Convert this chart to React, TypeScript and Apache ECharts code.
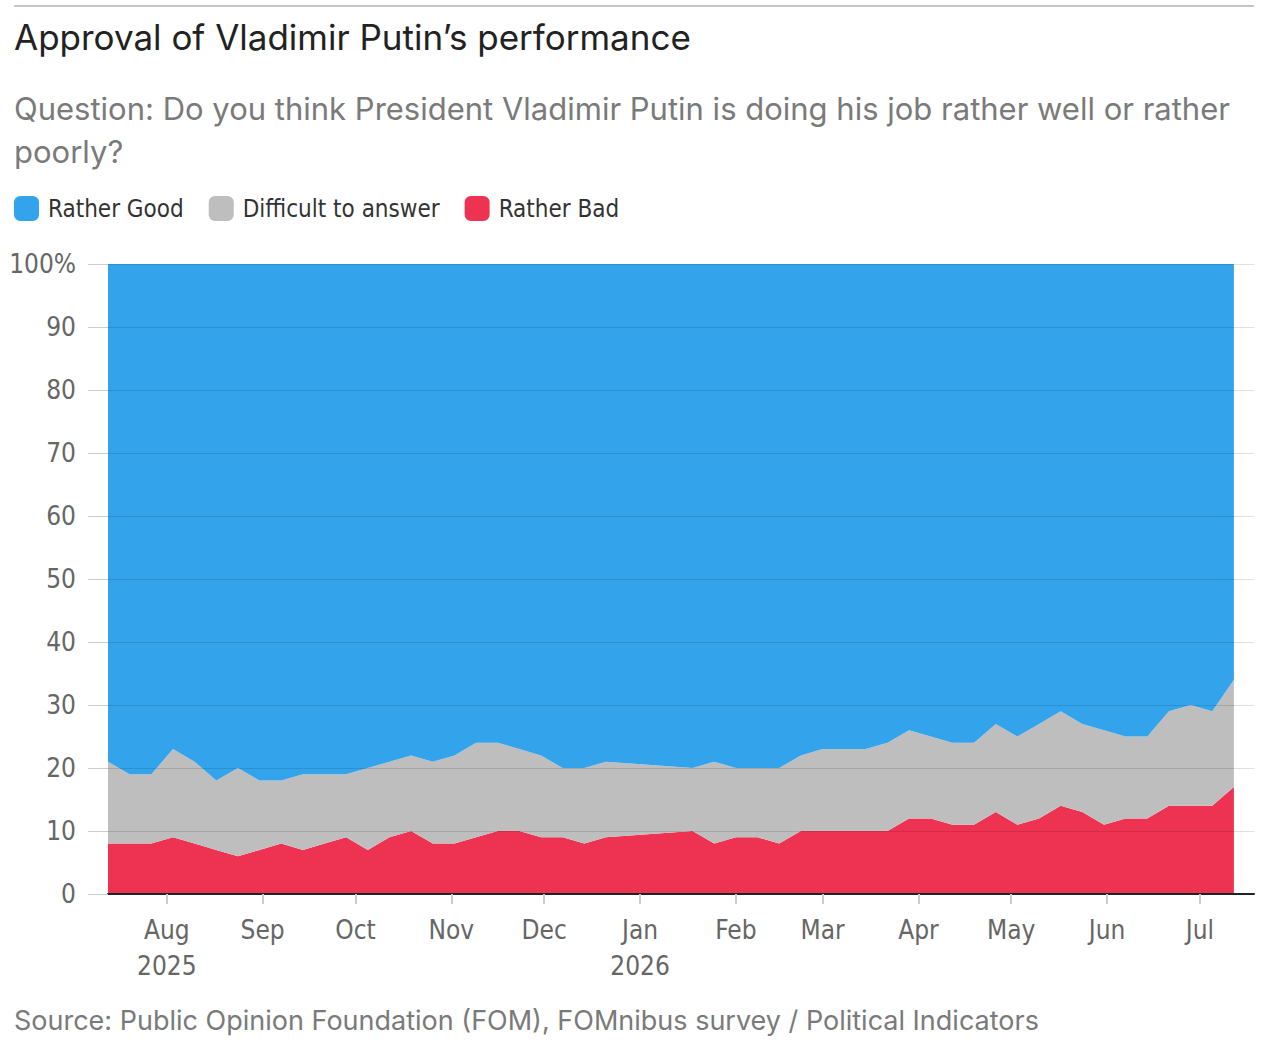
import React, { useEffect, useRef } from "react";
import * as echarts from "echarts";

// Weekly survey dates (no survey over the New Year holidays)
const dates = [
  "2025-07-13", "2025-07-20", "2025-07-27", "2025-08-03", "2025-08-10", "2025-08-17",
  "2025-08-24", "2025-08-31", "2025-09-07", "2025-09-14", "2025-09-21", "2025-09-28",
  "2025-10-05", "2025-10-12", "2025-10-19", "2025-10-26", "2025-11-02", "2025-11-09",
  "2025-11-16", "2025-11-23", "2025-11-30", "2025-12-07", "2025-12-14", "2025-12-21",
  "2026-01-18", "2026-01-25", "2026-02-01", "2026-02-08", "2026-02-15", "2026-02-22",
  "2026-03-01", "2026-03-08", "2026-03-15", "2026-03-22", "2026-03-29", "2026-04-05",
  "2026-04-12", "2026-04-19", "2026-04-26", "2026-05-03", "2026-05-10", "2026-05-17",
  "2026-05-24", "2026-05-31", "2026-06-07", "2026-06-14", "2026-06-21", "2026-06-28",
  "2026-07-05", "2026-07-12",
];

const ratherBad = [
  8, 8, 8, 9, 8, 7, 6, 7, 8, 7, 8, 9, 7, 9, 10, 8, 8, 9, 10, 10, 9, 9, 8, 9,
  10, 8, 9, 9, 8, 10, 10, 10, 10, 10, 12, 12, 11, 11, 13, 11, 12, 14, 13, 11, 12, 12, 14, 14, 14, 17,
];

const difficult = [
  13, 11, 11, 14, 13, 11, 14, 11, 10, 12, 11, 10, 13, 12, 12, 13, 14, 15, 14, 13, 13, 11, 12, 12,
  10, 13, 11, 11, 12, 12, 13, 13, 13, 14, 14, 13, 13, 13, 14, 14, 15, 15, 14, 15, 13, 13, 15, 16, 15, 17,
];

const ratherGood = [
  79, 81, 81, 77, 79, 82, 80, 82, 82, 81, 81, 81, 80, 79, 78, 79, 78, 76, 76, 77, 78, 80, 80, 79,
  80, 79, 80, 80, 80, 78, 77, 77, 77, 76, 74, 75, 76, 76, 73, 75, 73, 71, 73, 74, 75, 75, 71, 70, 71, 66,
];

const monthNames = ["Jan", "Feb", "Mar", "Apr", "May", "Jun", "Jul", "Aug", "Sep", "Oct", "Nov", "Dec"];
const yearLabelMonths = ["2025-08", "2026-01"];

const seriesNames = ["Rather Good", "Difficult to answer", "Rather Bad"];
const colors = { good: "#33A3EB", diff: "#BEBEBE", bad: "#EE3352" };

const TITLE = "Approval of Vladimir Putin\u2019s performance";
const SUB1 = "Question: Do you think President Vladimir Putin is doing his job rather well or rather";
const SUB2 = "poorly?";
const SOURCE = "Source: Public Opinion Foundation (FOM), FOMnibus survey / Political Indicators";

const DAY = 86400000;
function ts(s: string) {
  const [y, m, d] = s.split("-").map(Number);
  return new Date(y, m - 1, d).getTime();
}

const NARROW = '"Liberation Sans Narrow", "DejaVu Sans Condensed", "Roboto Condensed", Roboto, sans-serif';
const SANS = 'Inter, "Noto Sans", sans-serif';

export default function App() {
  const ref = useRef<HTMLDivElement>(null);
  useEffect(() => {
    document.body.style.margin = "0";
    const chart = echarts.init(ref.current as HTMLDivElement, undefined, { renderer: "svg" });
    const times = dates.map(ts);
    const mk = (arr: number[]) => arr.map((v, i) => [times[i], v]);
    const area = (name: string, data: number[], color: string) => ({
      name,
      type: "line",
      stack: "total",
      data: mk(data),
      color,
      symbol: "none",
      showSymbol: false,
      lineStyle: { width: 0, color },
      itemStyle: { color },
      areaStyle: { color, opacity: 1 },
      emphasis: { disabled: true },
      z: 2,
    });
    const option = {
      animation: false,
      backgroundColor: "#ffffff",
      graphic: [
        { type: "rect", shape: { x: 14, y: 5, width: 1240, height: 2 }, style: { fill: "#c6c6c6" } },
        {
          type: "text",
          style: { x: 14, y: 37, text: TITLE, fill: "#222222", fontSize: 35, fontFamily: SANS, fontWeight: 400, verticalAlign: "middle" },
        },
        {
          type: "text",
          style: { x: 14, y: 108, text: SUB1, fill: "#7a7a7a", fontSize: 31, fontFamily: SANS, fontWeight: 400, verticalAlign: "middle" },
        },
        {
          type: "text",
          style: { x: 14, y: 151, text: SUB2, fill: "#7a7a7a", fontSize: 31, fontFamily: SANS, fontWeight: 400, verticalAlign: "middle" },
        },
        {
          type: "text",
          style: { x: 14, y: 1020, text: SOURCE, fill: "#7a7a7a", fontSize: 27, fontFamily: SANS, fontWeight: 400, verticalAlign: "middle" },
        },
      ],
      legend: {
        data: seriesNames,
        left: 14,
        top: 196,
        padding: 0,
        icon: "roundRect",
        itemWidth: 25,
        itemHeight: 25,
        itemGap: 25,
        selectedMode: false,
        textStyle: { fontSize: 24, color: "#333333", fontFamily: NARROW, padding: [0, 0, 0, 4] },
      },
      grid: { left: 108, right: 26, top: 264, bottom: 151, containLabel: false },
      xAxis: {
        type: "time",
        min: times[0],
        max: times[times.length - 1] + 6.5 * DAY,
        splitNumber: 12,
        z: 5,
        axisLine: { show: true, lineStyle: { color: "#222222", width: 2 } },
        axisTick: { show: true, length: 10, lineStyle: { color: "#cccccc", width: 2 } },
        minorTick: { show: false },
        axisLabel: {
          showMinLabel: false,
          showMaxLabel: false,
          formatter: (v: number) => {
            const d = new Date(v);
            if (d.getDate() !== 1) return "";
            const key = d.getFullYear() + "-" + String(d.getMonth() + 1).padStart(2, "0");
            const name = monthNames[d.getMonth()];
            return yearLabelMonths.indexOf(key) >= 0 ? name + "\n" + d.getFullYear() : name;
          },
          color: "#666666",
          fontSize: 26,
          fontFamily: NARROW,
          lineHeight: 36,
          margin: 18,
        },
        splitLine: { show: false },
      },
      yAxis: {
        type: "value",
        min: 0,
        max: 100,
        interval: 10,
        z: 5,
        axisLine: { show: false },
        axisTick: { show: true, length: 20, lineStyle: { color: "#cccccc", width: 1 } },
        axisLabel: {
          formatter: (v: number) => (v === 100 ? "100%" : String(v)),
          color: "#666666",
          fontSize: 26,
          fontFamily: NARROW,
          margin: 32,
        },
        splitLine: { show: true, lineStyle: { color: "rgba(0,0,0,0.12)", width: 1 } },
      },
      series: [
        area("Rather Bad", ratherBad, colors.bad),
        area("Difficult to answer", difficult, colors.diff),
        area("Rather Good", ratherGood, colors.good),
      ],
    };
    chart.setOption(option as any);
    return () => chart.dispose();
  }, []);
  return <div ref={ref} style={{ width: 1280, height: 1045 }} />;
}
